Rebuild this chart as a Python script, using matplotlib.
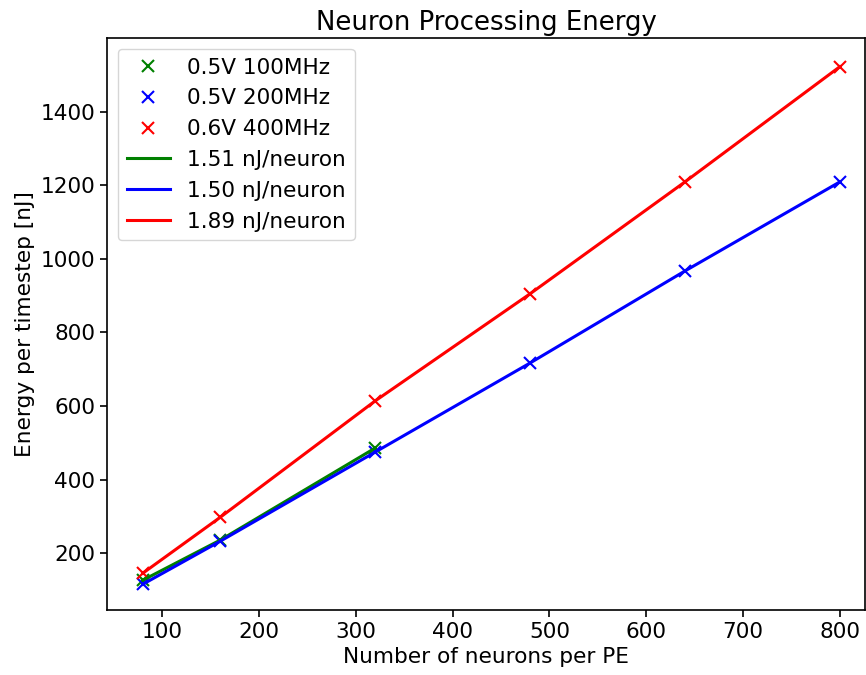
import numpy as np
from matplotlib import pyplot as plt

# neurons per PE
x_100 = [80, 160, 320]
x_all = [80, 160, 320, 480, 640, 800]

# energy per timestep [nJ]
e_05v_100 = [127, 236, 486]
e_05v_200 = [116, 233, 475, 717, 967, 1209]
e_06v_400 = [146, 298, 614, 905, 1209, 1522]

slope_labels = ["1.51 nJ/neuron", "1.50 nJ/neuron", "1.89 nJ/neuron"]

plt.rcParams['font.size'] = 15.6
fig = plt.figure(figsize=(8.66, 6.75), dpi=100)
ax = fig.add_axes([0.1236, 0.0963, 0.8752, 0.8474])

ms = 8.5
mew = 1.5
lw = 2.2
ax.plot(x_100, e_05v_100, 'x', color='green', ms=ms, mew=mew, label='0.5V 100MHz')
ax.plot(x_all, e_05v_200, 'x', color='blue', ms=ms, mew=mew, label='0.5V 200MHz')
ax.plot(x_all, e_06v_400, 'x', color='red', ms=ms, mew=mew, label='0.6V 400MHz')

ax.plot(x_100, e_05v_100, '-', color='green', lw=lw, label=slope_labels[0])
ax.plot(x_all, e_05v_200, '-', color='blue', lw=lw, label=slope_labels[1])
ax.plot(x_all, e_06v_400, '-', color='red', lw=lw, label=slope_labels[2])

ax.set_xlim(43, 826)
ax.set_ylim(46, 1600)
ax.set_xticks([100, 200, 300, 400, 500, 600, 700, 800])
ax.set_yticks([200, 400, 600, 800, 1000, 1200, 1400])
for s in ax.spines.values():
    s.set_linewidth(1.2)
ax.tick_params(width=1.2, length=5)

ax.set_title('Neuron Processing Energy', fontsize=18.7)
ax.set_xlabel('Number of neurons per PE')
ax.set_ylabel('Energy per timestep [nJ]')
ax.legend(loc='upper left', numpoints=1)

fig.savefig('out.png', dpi=100)
